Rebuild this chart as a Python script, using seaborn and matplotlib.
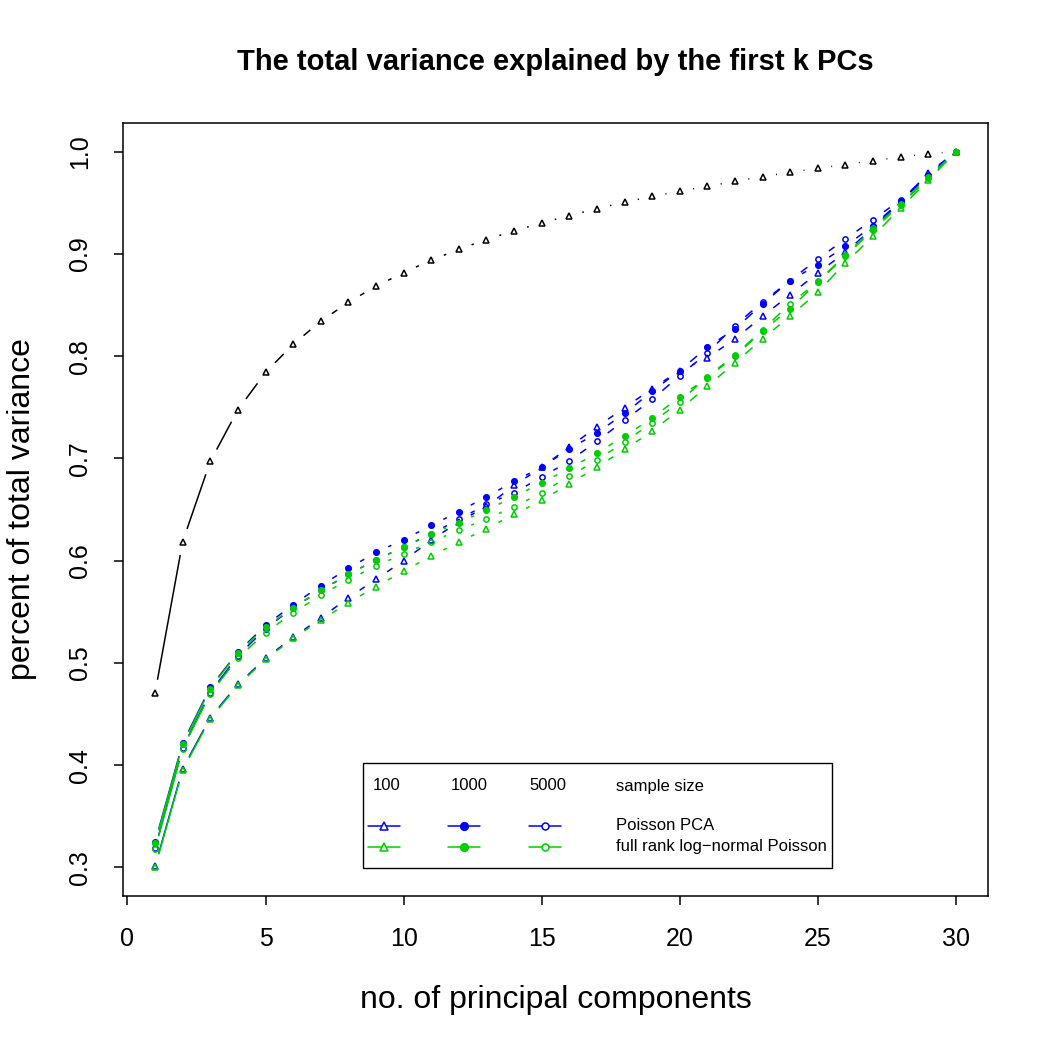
import numpy as np
import seaborn as sns
import matplotlib
matplotlib.use("Agg")
import matplotlib.pyplot as plt
from matplotlib.collections import LineCollection
from matplotlib.lines import Line2D
from matplotlib.patches import Rectangle

# number of principal components
k = list(range(1, 31))

# cumulative share of variance
total_pcs = [0.4705, 0.6185, 0.697, 0.7475, 0.784, 0.8116, 0.834, 0.8527, 0.8683, 0.8817,
             0.8938, 0.9045, 0.914, 0.9225, 0.9303, 0.9374, 0.9443, 0.9505, 0.9563, 0.9612,
             0.9661, 0.971, 0.9756, 0.9798, 0.9837, 0.9874, 0.9912, 0.9948, 0.998, 1.0]

pois_100 = [0.301, 0.3965, 0.4465, 0.479, 0.5045, 0.525, 0.5438, 0.5637, 0.5816, 0.600,
            0.620, 0.638, 0.653, 0.6735, 0.6914, 0.711, 0.7309, 0.7494, 0.7683, 0.7859,
            0.7983, 0.8169, 0.839, 0.8602, 0.8814, 0.9016, 0.9254, 0.951, 0.979, 1.0]
pois_1000 = [0.3245, 0.4215, 0.476, 0.5106, 0.5367, 0.5568, 0.5755, 0.5924, 0.608, 0.6205,
             0.6344, 0.648, 0.6624, 0.6775, 0.6916, 0.709, 0.725, 0.7439, 0.7657, 0.7859,
             0.8087, 0.8267, 0.8511, 0.8739, 0.8895, 0.9075, 0.9277, 0.9514, 0.9765, 1.0]
pois_5000 = [0.3185, 0.417, 0.471, 0.507, 0.5334, 0.554, 0.5709, 0.5865, 0.6008, 0.6133,
             0.6263, 0.6403, 0.655, 0.6664, 0.6817, 0.6973, 0.7168, 0.7373, 0.7576, 0.781,
             0.8032, 0.8299, 0.8531, 0.8739, 0.8951, 0.9146, 0.9335, 0.953, 0.977, 1.0]

lnp_100 = [0.300, 0.3952, 0.4454, 0.478, 0.5034, 0.524, 0.5418, 0.5588, 0.5745, 0.5898,
           0.6044, 0.6181, 0.6312, 0.6452, 0.6589, 0.6751, 0.6914, 0.7087, 0.7266, 0.7478,
           0.7706, 0.7934, 0.8172, 0.839, 0.8628, 0.8912, 0.9173, 0.945, 0.972, 1.0]
lnp_1000 = [0.3236, 0.4203, 0.4748, 0.510, 0.535, 0.554, 0.571, 0.5865, 0.601, 0.613,
            0.626, 0.637, 0.6494, 0.6624, 0.6762, 0.6901, 0.7054, 0.7217, 0.7394, 0.7602,
            0.7788, 0.800, 0.8247, 0.8465, 0.8726, 0.8977, 0.9238, 0.948, 0.974, 1.0]
lnp_5000 = [0.3177, 0.4161, 0.4699, 0.5047, 0.5295, 0.549, 0.5663, 0.5813, 0.5946, 0.6067,
            0.6185, 0.6295, 0.641, 0.6525, 0.6664, 0.6826, 0.6982, 0.7162, 0.7348, 0.7556,
            0.780, 0.801, 0.826, 0.8511, 0.873, 0.899, 0.925, 0.949, 0.975, 1.0]

sample_sizes = ["100", "1000", "5000"]
methods = ["Poisson PCA", "full rank log\u2212normal Poisson"]

BLUE = "#0000FF"
GREEN = "#00CD00"
GAP = 13.5  # px cut around each point, like R type="b"

sns.set_theme(style="white")
plt.rcParams["font.family"] = ["Liberation Sans", "DejaVu Sans"]
plt.rcParams.update({"text.color": "black", "axes.labelcolor": "black",
                     "xtick.color": "black", "ytick.color": "black"})

W = 1050.0
fig = plt.figure(figsize=(10.5, 10.5), dpi=100)
ax = fig.add_axes([123 / W, 1 - 896 / W, 865 / W, 773 / W])
ax.set_xlim(-0.16, 31.16)
ax.set_ylim(0.272, 1.028)


def gapped(xs, ys, gap=GAP):
    pts = ax.transData.transform(np.column_stack([xs, ys]))
    inv = ax.transData.inverted()
    segs = []
    for p0, p1 in zip(pts[:-1], pts[1:]):
        d = p1 - p0
        L = np.hypot(d[0], d[1])
        if L <= 2 * gap:
            continue
        u = d / L
        segs.append(inv.transform(np.array([p0 + u * gap, p1 - u * gap])))
    return segs


def draw_series(vals, color, marker, filled, ms):
    ax.add_collection(LineCollection(gapped(k, vals), colors=color, linewidths=1.1))
    sns.lineplot(x=k, y=vals, ax=ax, color=color, linestyle="none", marker=marker,
                 markersize=ms, markeredgecolor=color, markeredgewidth=1.1,
                 markerfacecolor=color if filled else "none")


series = [
    (total_pcs, "black", "^", False, 4.2),
    (pois_100, BLUE, "^", False, 4.2),
    (pois_1000, BLUE, "o", True, 4.0),
    (pois_5000, BLUE, "o", False, 3.8),
    (lnp_100, GREEN, "^", False, 4.2),
    (lnp_1000, GREEN, "o", True, 4.0),
    (lnp_5000, GREEN, "o", False, 3.8),
]
for vals, col, mk, fl, ms in series:
    draw_series(vals, col, mk, fl, ms)

ax.set_xlim(-0.16, 31.16)
ax.set_ylim(0.272, 1.028)

# axes, ticks, labels
ax.set_xticks([0, 5, 10, 15, 20, 25, 30])
yt = [0.3, 0.4, 0.5, 0.6, 0.7, 0.8, 0.9, 1.0]
ax.set_yticks(yt)
ax.set_yticklabels([f"{v:.1f}" for v in yt], rotation=90, va="center")
ax.tick_params(axis="both", direction="out", length=6.5, width=1.1, color="black",
               labelcolor="black", labelsize=18, pad=16, left=True, bottom=True)
for sp in ax.spines.values():
    sp.set_color("black")
    sp.set_linewidth(1.1)

ax.set_xlabel("no. of principal components", fontsize=23, va="center", color="black")
ax.xaxis.set_label_coords(0.5, (896 - 1000) / 773)
ax.set_ylabel("percent of total variance", fontsize=23, va="center", color="black")
ax.yaxis.set_label_coords((22 - 123) / 865, 0.5)

fig.text(555 / W, 1 - 62 / W, "The total variance explained by the first k PCs",
         ha="center", va="center", fontsize=21, fontweight="bold", color="black")

# legend box in the style of R's legend(ncol=4)
fig.add_artist(Rectangle((363 / W, 1 - 868 / W), (832 - 363) / W, (868 - 763) / W,
                         transform=fig.transFigure, fill=False, edgecolor="black",
                         linewidth=1.0))
col_left = [368, 448, 529]
head_left = [373, 451, 529]
for i, s in enumerate(sample_sizes):
    fig.text(head_left[i] / W, 1 - 786 / W, s, ha="left", va="center", fontsize=12)
fig.text(616 / W, 1 - 786 / W, "sample size", ha="left", va="center", fontsize=12)

row_y = [826, 847]
row_col = [BLUE, GREEN]
legend_marks = [("^", False, 6.0), ("o", True, 5.5), ("o", False, 5.0)]
for r, (yy, col) in enumerate(zip(row_y, row_col)):
    for c, (mk, fl, ms) in enumerate(legend_marks):
        x0 = col_left[c]
        fig.add_artist(Line2D([x0 / W, (x0 + 32) / W], [1 - yy / W, 1 - yy / W],
                              transform=fig.transFigure, color=col, linewidth=1.1))
        fig.add_artist(Line2D([(x0 + 16) / W], [1 - yy / W], transform=fig.transFigure,
                              linestyle="none", marker=mk, markersize=ms,
                              markeredgecolor=col, markeredgewidth=1.1,
                              markerfacecolor=col if fl else "white"))
    fig.text(616 / W, 1 - yy / W, methods[r], ha="left", va="center", fontsize=12)

fig.savefig("out.png", dpi=100, facecolor="white")
